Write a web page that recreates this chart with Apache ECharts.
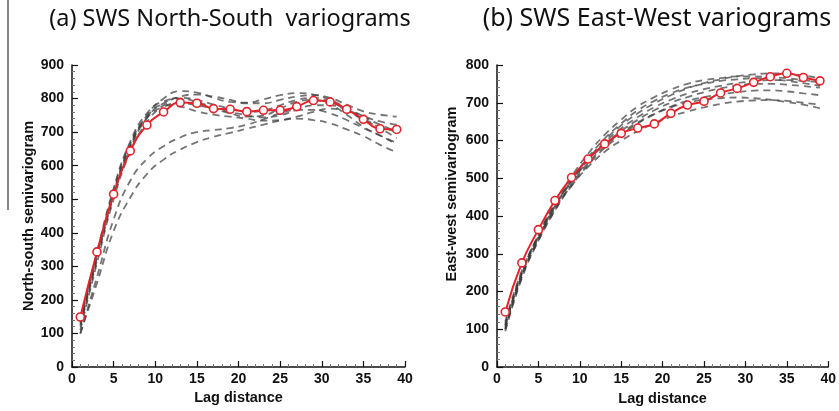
<!DOCTYPE html>
<html>
<head>
<meta charset="utf-8">
<script src="https://cdn.jsdelivr.net/npm/echarts@6/dist/echarts.min.js"></script>
<style>
  html, body { margin: 0; padding: 0; background: #fff; }
  #main { width: 839px; height: 411px; }
</style>
</head>
<body>
<div id="main"></div>
<script>
// 滞后距离 (lag distance)
var lags = [1, 3, 5, 7, 9, 11, 13, 15, 17, 19, 21, 23, 25, 27, 29, 31, 33, 35, 37, 39];

// (a) 南北向 - 红线（平均变差函数）
var nsMean = [149, 343, 515, 644, 721, 760, 788, 786, 770, 768, 761, 765, 765, 776, 794, 790, 768, 738, 710, 708];
// (a) 南北向 - 灰色虚线（各个实现）
var nsDashed = [
    [130, 330, 520, 660, 750, 800, 822, 818, 802, 790, 788, 798, 810, 816, 812, 796, 772, 748, 732, 722],
    [120, 318, 508, 650, 742, 786, 802, 796, 782, 770, 760, 764, 780, 796, 802, 790, 766, 736, 716, 700],
    [140, 342, 532, 672, 756, 792, 800, 790, 772, 756, 746, 750, 770, 790, 796, 782, 752, 716, 690, 668],
    [110, 310, 500, 640, 730, 780, 806, 812, 806, 796, 786, 786, 796, 806, 810, 802, 782, 762, 752, 746],
    [126, 326, 516, 656, 742, 776, 786, 780, 770, 760, 750, 744, 750, 766, 780, 780, 766, 746, 722, 702],
    [136, 336, 526, 666, 746, 780, 776, 762, 752, 746, 740, 734, 736, 746, 760, 770, 760, 740, 712, 682],
    [100, 250, 405, 505, 575, 618, 648, 670, 686, 698, 710, 722, 734, 740, 736, 726, 708, 688, 662, 640],
    [100, 268, 440, 555, 620, 658, 684, 700, 706, 712, 722, 738, 756, 766, 766, 756, 736, 712, 690, 664]
];

// (b) 东西向 - 红线
var ewMean = [146, 276, 364, 441, 502, 551, 591, 619, 633, 644, 672, 694, 704, 726, 738, 754, 769, 778, 767, 758];
// (b) 东西向 - 灰色虚线
var ewDashed = [
    [110, 250, 350, 435, 505, 565, 615, 655, 690, 715, 735, 750, 760, 765, 770, 770, 768, 765, 760, 755],
    [100, 240, 340, 425, 495, 555, 605, 645, 680, 705, 725, 740, 750, 758, 762, 765, 763, 758, 752, 745],
    [120, 255, 345, 425, 490, 545, 590, 625, 655, 680, 700, 715, 728, 738, 745, 750, 750, 748, 744, 740],
    [95, 235, 335, 415, 480, 535, 580, 615, 645, 670, 690, 705, 715, 722, 728, 732, 733, 730, 725, 720],
    [105, 245, 340, 420, 480, 530, 570, 600, 625, 645, 663, 677, 688, 697, 703, 706, 707, 705, 700, 695],
    [115, 250, 350, 430, 495, 550, 600, 640, 672, 698, 720, 738, 752, 762, 770, 775, 778, 776, 772, 765],
    [100, 240, 335, 415, 485, 540, 585, 620, 648, 670, 688, 700, 708, 712, 714, 712, 708, 702, 695, 685],
    [110, 248, 345, 428, 492, 548, 595, 632, 662, 688, 708, 724, 736, 745, 752, 757, 760, 760, 758, 755]
];

// 坐标轴刻度
var xTicks = { min: 0, max: 40, interval: 5 };
var nsTicks = { min: 0, max: 900, interval: 100 };
var ewTicks = { min: 0, max: 800, interval: 100 };

var titles = ['(a) SWS North-South  variograms', '(b) SWS East-West variograms'];
var yNames = ['North-south semivariogram', 'East-west semivariogram'];
var xName = 'Lag distance';

var labelFont = '"Liberation Sans", Arial, sans-serif';

function toPoints(vals) {
    return lags.map(function (x, i) { return [x, vals[i]]; });
}

function makeXAxis(idx) {
    return {
        type: 'value',
        gridIndex: idx,
        min: xTicks.min,
        max: xTicks.max,
        interval: xTicks.interval,
        name: xName,
        nameLocation: 'middle',
        nameGap: 22,
        nameTextStyle: { fontFamily: labelFont, fontWeight: 'bold', fontSize: 14.5, color: '#111' },
        axisLine: { lineStyle: { color: '#111', width: 1.5 } },
        axisTick: { inside: true, length: 6, lineStyle: { color: '#111', width: 1.2 } },
        minorTick: { show: true, splitNumber: 5, length: 3, lineStyle: { color: '#777' } },
        axisLabel: { fontFamily: labelFont, fontWeight: 'bold', fontSize: 14, color: '#111', margin: 5 },
        splitLine: { show: false }
    };
}

function makeYAxis(idx, ticks, gap, pad) {
    return {
        type: 'value',
        gridIndex: idx,
        min: ticks.min,
        max: ticks.max,
        interval: ticks.interval,
        name: yNames[idx],
        nameLocation: 'middle',
        nameGap: gap,
        nameTextStyle: { fontFamily: labelFont, fontWeight: 'bold', fontSize: 14.5, color: '#111', padding: pad },
        axisLine: { show: true, lineStyle: { color: '#111', width: 1.5 } },
        axisTick: { inside: true, length: 6, lineStyle: { color: '#111', width: 1.2 } },
        minorTick: { show: true, splitNumber: 5, length: 3, lineStyle: { color: '#777' } },
        axisLabel: { fontFamily: labelFont, fontWeight: 'bold', fontSize: 14, color: '#111', margin: 8 },
        splitLine: { show: false }
    };
}

function dashedSeries(list, idx) {
    return list.map(function (vals) {
        return {
            type: 'line',
            xAxisIndex: idx,
            yAxisIndex: idx,
            data: toPoints(vals),
            smooth: true,
            symbol: 'none',
            silent: true,
            z: 2,
            lineStyle: { color: '#3a3a3a', opacity: 0.7, width: 1.8, type: [7, 5] }
        };
    });
}

function meanSeries(vals, idx) {
    return {
        type: 'line',
        xAxisIndex: idx,
        yAxisIndex: idx,
        data: toPoints(vals),
        smooth: true,
        symbol: 'circle',
        symbolSize: 8,
        z: 5,
        lineStyle: { color: '#e3222a', width: 2 },
        itemStyle: { color: '#fff', borderColor: '#e3222a', borderWidth: 1.6 }
    };
}

var myChart = echarts.init(document.getElementById('main'));

var option = {
    animation: false,
    backgroundColor: '#fff',
    title: [
        { text: titles[0], left: 225, top: 2, textAlign: 'center',
          textStyle: { fontFamily: 'Noto Sans', fontWeight: 'normal', fontSize: 23.5, color: '#111' } },
        { text: titles[1], left: 652, top: 1, textAlign: 'center',
          textStyle: { fontFamily: 'Noto Sans', fontWeight: 'normal', fontSize: 25, color: '#111' } }
    ],
    grid: [
        { left: 72, right: 434, top: 65, bottom: 44 },
        { left: 497, right: 9, top: 65, bottom: 43 }
    ],
    xAxis: [makeXAxis(0), makeXAxis(1)],
    yAxis: [makeYAxis(0, nsTicks, 30, 0), makeYAxis(1, ewTicks, 38, [0, 0, 0, 44])],
    series: []
        .concat(dashedSeries(nsDashed, 0))
        .concat([meanSeries(nsMean, 0)])
        .concat(dashedSeries(ewDashed, 1))
        .concat([meanSeries(ewMean, 1)]),
    graphic: [
        // 左侧灰色竖线
        { type: 'line', shape: { x1: 8, y1: 0, x2: 8, y2: 210 }, style: { stroke: '#888', lineWidth: 2 } }
    ]
};

myChart.setOption(option);
</script>
</body>
</html>
